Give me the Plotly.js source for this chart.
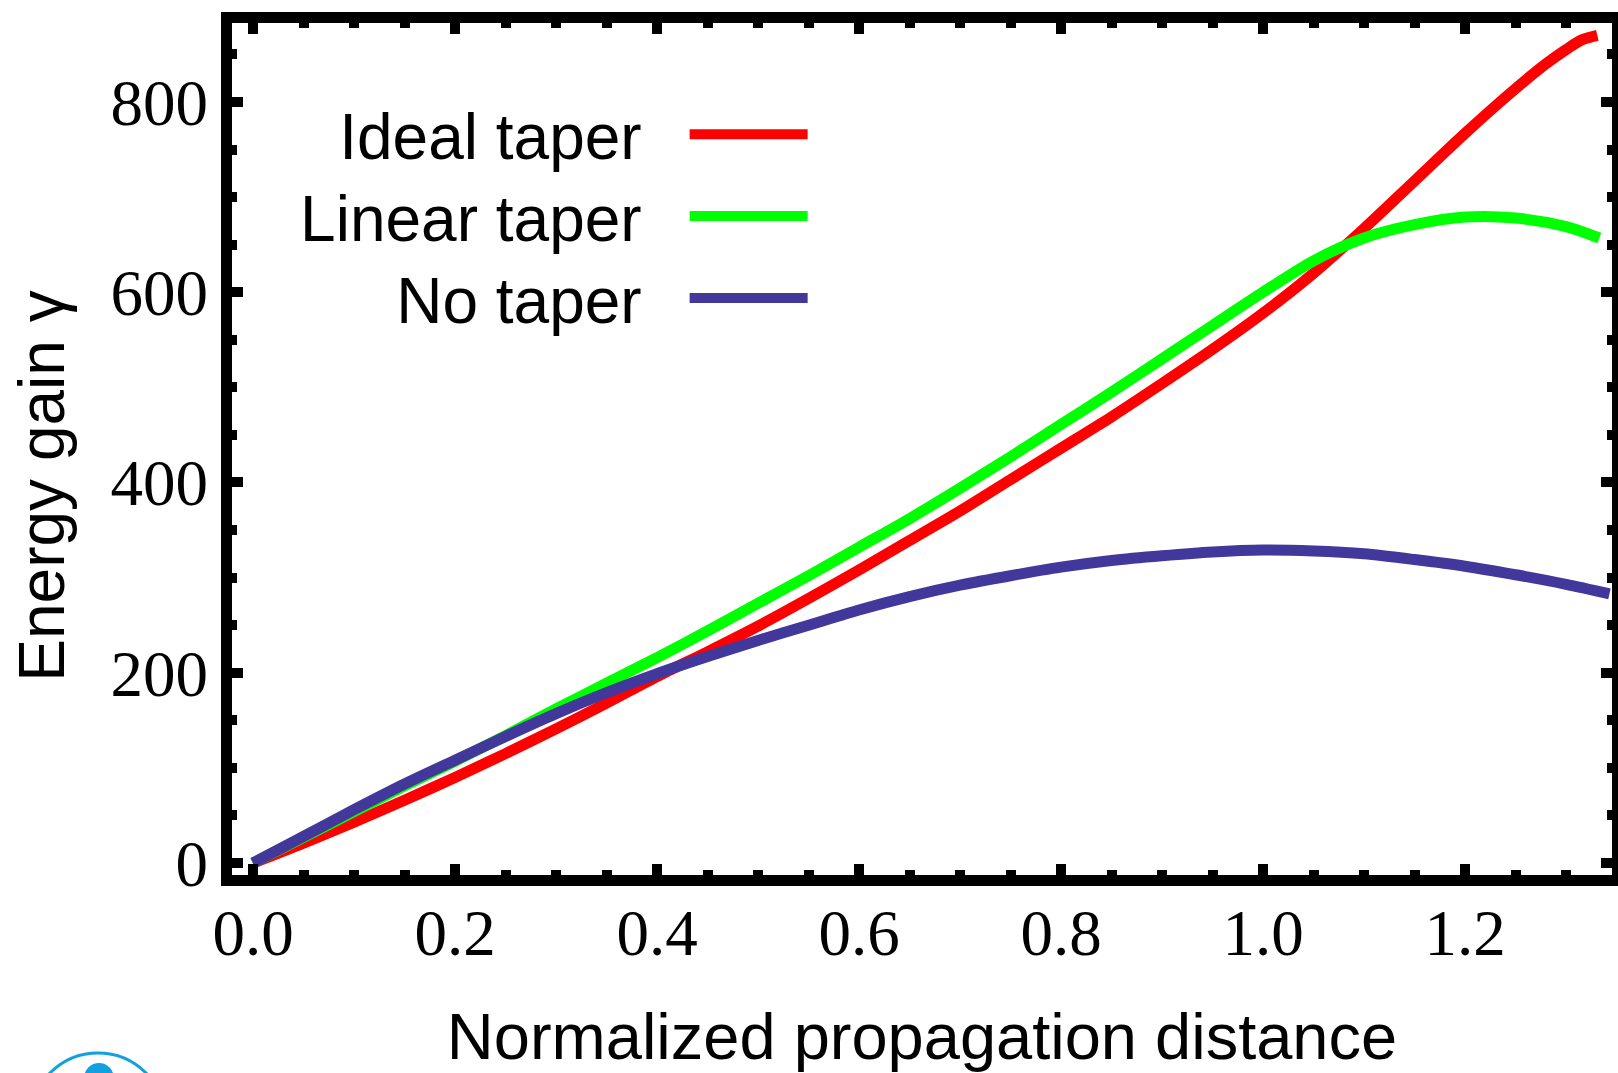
<!DOCTYPE html>
<html>
<head>
<meta charset="utf-8">
<script src="https://cdn.plot.ly/plotly-3.0.1.min.js"></script>
<style>
  html, body { margin: 0; padding: 0; background: #ffffff; }
  #plot { width: 1618px; height: 1073px; }
</style>
</head>
<body>
<div id="plot"></div>
<script>
// ---- Data ----
const seriesNames = ['Ideal taper', 'Linear taper', 'No taper'];

const xIdeal = [0, 0.05, 0.1, 0.15, 0.2, 0.25, 0.3, 0.35, 0.4, 0.45, 0.5, 0.55, 0.6, 0.65, 0.7, 0.75, 0.8, 0.85, 0.9, 0.95, 1.0, 1.05, 1.1, 1.15, 1.2, 1.25, 1.28, 1.3, 1.315, 1.331];
const yIdeal = [0, 21, 43, 66, 90, 115, 141, 168, 196, 222, 249, 278, 308, 339, 370, 403, 436, 469, 504, 540, 578, 620, 667, 717, 767, 814, 840, 855, 865, 870];

const xLinear = [0, 0.05, 0.1, 0.15, 0.2, 0.25, 0.3, 0.35, 0.4, 0.45, 0.5, 0.55, 0.6, 0.65, 0.7, 0.75, 0.8, 0.85, 0.9, 0.95, 1.0, 1.05, 1.1, 1.15, 1.2, 1.25, 1.3, 1.333];
const yLinear = [0, 27, 54, 81, 107, 134, 162, 189, 216, 244, 273, 302, 332, 362, 394, 427, 461, 495, 530, 565, 600, 633, 657, 671, 679, 678, 669, 657];

const xNone = [0, 0.05, 0.1, 0.15, 0.2, 0.25, 0.3, 0.35, 0.4, 0.45, 0.5, 0.55, 0.6, 0.65, 0.7, 0.75, 0.8, 0.85, 0.9, 0.95, 1.0, 1.05, 1.1, 1.15, 1.2, 1.25, 1.3, 1.343];
const yNone = [0, 28, 56, 83, 108, 133, 157, 179, 199, 217, 234, 250, 266, 280, 292, 302, 311, 318, 323, 327, 329, 328, 325, 319, 312, 303, 293, 283];

const xTickVals = [0, 0.2, 0.4, 0.6, 0.8, 1.0, 1.2];
const xTickText = ['0.0', '0.2', '0.4', '0.6', '0.8', '1.0', '1.2'];
const yTickVals = [0, 200, 400, 600, 800];
const yTickText = ['0', '200', '400', '600', '800'];

const xTitle = 'Normalized propagation distance';
const yTitle = 'Energy gain \u03b3';

// ---- Styles ----
const colors = ['#ff0000', '#00ff00', '#42389b'];
const legendIds = ['legend', 'legend2', 'legend3'];
const LW = 11;
const sansFont = 'Liberation Sans, Arial, Helvetica, sans-serif';
const serifFont = 'Liberation Serif, Times New Roman, serif';

const traces = [
  { x: xIdeal, y: yIdeal, name: seriesNames[0] },
  { x: xLinear, y: yLinear, name: seriesNames[1] },
  { x: xNone, y: yNone, name: seriesNames[2] }
].map(function (t, i) {
  return Object.assign(t, {
    type: 'scatter', mode: 'lines', legend: legendIds[i], showlegend: true,
    line: { color: colors[i], width: LW, shape: 'spline', smoothing: 0.8 },
    hoverinfo: 'skip'
  });
});

const axisCommon = {
  showline: true, linewidth: 11, linecolor: '#000000', mirror: 'ticks',
  ticks: 'inside', ticklen: 11, tickwidth: 10, tickcolor: '#000000',
  showgrid: false, zeroline: false,
  tickfont: { family: serifFont, size: 65, color: '#000000' }
};

function legendBox(y) {
  return {
    x: 0.328, y: y, xanchor: 'left', yanchor: 'top',
    bgcolor: 'rgba(0,0,0,0)', borderwidth: 0,
    font: { family: sansFont, size: 64, color: '#000000' },
    itemwidth: 118, itemclick: false, itemdoubleclick: false
  };
}

const layout = {
  width: 1618, height: 1073,
  margin: { l: 232, r: 6, t: 23, b: 198, pad: 0 },
  paper_bgcolor: '#ffffff', plot_bgcolor: '#ffffff',
  showlegend: true,
  legend: legendBox(0.926),
  legend2: legendBox(0.830),
  legend3: legendBox(0.7336),
  xaxis: Object.assign({}, axisCommon, {
    range: [-0.0208, 1.3455],
    tickmode: 'array', tickvals: xTickVals, ticktext: xTickText,
    ticklabelstandoff: -9,
    minor: { tick0: 0, dtick: 0.05, ticks: 'inside', ticklen: 5, tickwidth: 10, tickcolor: '#000000', showgrid: false },
    title: { text: xTitle, font: { family: sansFont, size: 65, color: '#000000' }, standoff: 62 }
  }),
  yaxis: Object.assign({}, axisCommon, {
    range: [-12.6, 883],
    tickmode: 'array', tickvals: yTickVals, ticktext: yTickText,
    minor: { tick0: 0, dtick: 50, ticks: 'inside', ticklen: 5, tickwidth: 10, tickcolor: '#000000', showgrid: false },
    title: { text: yTitle, font: { family: sansFont, size: 64, color: '#000000' }, standoff: 30 }
  }),
  shapes: [
    { type: 'circle', xref: 'paper', yref: 'paper', x0: -0.1461, x1: -0.0481, y0: -0.3681, y1: -0.2089,
      line: { color: '#12a0df', width: 3 }, fillcolor: 'rgba(0,0,0,0)' },
    { type: 'circle', xref: 'paper', yref: 'paper', x0: -0.1071, x1: -0.0857, y0: -0.2554, y1: -0.2207,
      line: { color: '#12a0df', width: 0 }, fillcolor: '#12a0df' }
  ]
};

// Reference puts the legend text to the left of the line samples,
// and its y-axis title sits a little below the axis centre.
function adjust(gd) {
  gd.querySelectorAll('g.traces').forEach(function (g) {
    let el = g.parentNode;
    while (el && el !== gd && el.tagName && el.tagName.toLowerCase() !== 'svg') {
      if (el.hasAttribute && el.hasAttribute('clip-path')) el.removeAttribute('clip-path');
      el = el.parentNode;
    }
    let t = null;
    Array.prototype.forEach.call(g.children, function (c) {
      if (!t && c.tagName.toLowerCase() === 'text') t = c;
    });
    const p = g.querySelector('.legendlines path');
    if (!t || !p) return;
    const bb = p.getBBox();
    const tx = bb.x - 48;
    t.setAttribute('text-anchor', 'end');
    t.setAttribute('x', tx);
    t.querySelectorAll('tspan').forEach(function (s) { if (s.hasAttribute('x')) s.setAttribute('x', tx); });
  });
  const yt = gd.querySelector('.g-ytitle text');
  if (yt && !yt.getAttribute('data-shifted')) {
    const tr = yt.getAttribute('transform') || '';
    yt.setAttribute('transform', 'translate(0,37) ' + tr);
    yt.setAttribute('data-shifted', '1');
  }
}

Plotly.newPlot('plot', traces, layout, { staticPlot: true, displayModeBar: false, responsive: false })
  .then(function (gd) {
    adjust(gd);
    gd.on('plotly_afterplot', function () { adjust(gd); });
  });
</script>
</body>
</html>
